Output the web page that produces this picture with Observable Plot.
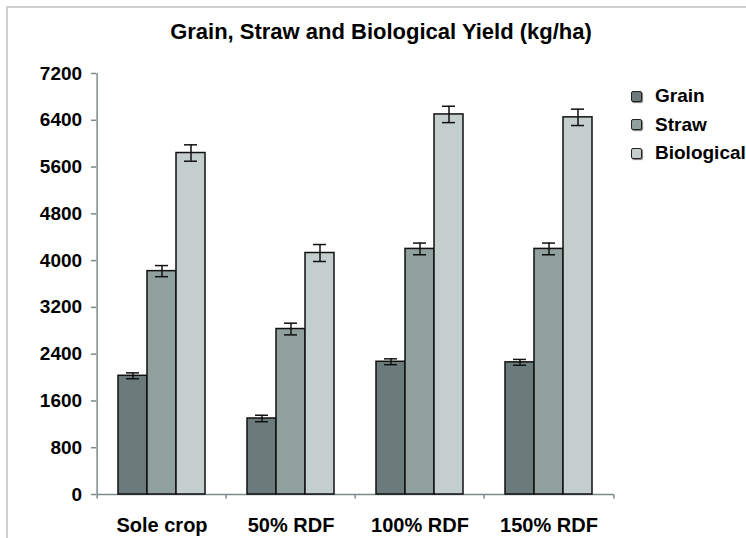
<!DOCTYPE html>
<html><head><meta charset="utf-8">
<script src="https://cdn.jsdelivr.net/npm/d3@7"></script>
<script src="https://cdn.jsdelivr.net/npm/@observablehq/plot@0.6"></script>
<style>
body{margin:0;background:#fff;}
#wrap{position:relative;width:746px;height:538px;overflow:hidden;font-family:"Liberation Sans",Arial,sans-serif;color:#000;}
#border{position:absolute;left:6px;top:6px;right:-4px;bottom:-4px;border-left:2px solid #cfcfcf;border-top:2px solid #cfcfcf;}
#chart{position:absolute;left:0;top:0;}
#title{position:absolute;top:19px;left:381px;transform:translateX(-50%);white-space:nowrap;font-size:22px;line-height:25px;font-weight:bold;}
#legend{position:absolute;left:631px;top:82px;}
.li{display:flex;align-items:center;height:28.5px;line-height:28px;font-size:19px;font-weight:bold;}
.sw{width:9px;height:9px;border:1px solid #222;border-radius:2px;box-shadow:1px 1px 1px #777;margin-right:13px;}
</style>
</head><body>
<div id="wrap">
  <div id="border"></div>
  <div id="chart"></div>
  <div id="title">Grain, Straw and Biological Yield (kg/ha)</div>
  <div id="legend"></div>
</div>
<script>
const categories = ["Sole crop", "50% RDF", "100% RDF", "150% RDF"];
const series = ["Grain", "Straw", "Biological"];
const grain = [2030, 1300, 2270, 2260];
const straw = [3820, 2830, 4200, 4200];
const biological = [5840, 4130, 6500, 6450];
const grainErr = [50, 55, 50, 50];
const strawErr = [95, 100, 100, 100];
const biologicalErr = [140, 145, 140, 140];
const yTicks = [0, 800, 1600, 2400, 3200, 4000, 4800, 5600, 6400, 7200];
const colors = ["#6b7b7b", "#8fa09d", "#c4cecd"];

const values = [grain, straw, biological];
const errs = [grainErr, strawErr, biologicalErr];
const rows = [];
categories.forEach((c, i) => series.forEach((s, j) => rows.push({category: c, series: s, value: values[j][i], err: errs[j][i]})));

const W = 746, H = 538, ML = 95, MR = 132, MT = 73, MB = 44;
const PAD_OUTER = 0.69;
const facetW = (W - ML - MR) / categories.length;
const step = facetW / (series.length + 2 * PAD_OUTER);
const lineColor = "#7b8b8b";

const leftEdges = categories.map((c, i) => ({category: c, first: i === 0}));
const rightEdge = [{category: categories[categories.length - 1]}];
const firstCat = () => categories[0];

const chart = Plot.plot({
  width: W, height: H,
  marginLeft: ML, marginRight: MR, marginTop: MT, marginBottom: MB,
  style: {fontFamily: "'Liberation Sans', Arial, sans-serif", background: "transparent"},
  fx: {domain: categories, padding: 0, label: null},
  x: {domain: series, paddingInner: 0, paddingOuter: PAD_OUTER, axis: null},
  y: {domain: [0, 7200], axis: null, label: null},
  color: {domain: series, range: colors},
  marks: [
    Plot.ruleY([0], {stroke: lineColor, strokeWidth: 1.5}),
    Plot.barY(rows, {fx: "category", x: "series", y: "value", fill: "series", stroke: "#111", strokeWidth: 1.5}),
    Plot.ruleX(rows, {fx: "category", x: "series", y1: d => d.value - d.err, y2: d => d.value + d.err, stroke: "#111", strokeWidth: 1.5}),
    Plot.tickY(rows, {fx: "category", x: "series", y: d => d.value + d.err, insetLeft: 8, insetRight: 8, stroke: "#111", strokeWidth: 1.5}),
    Plot.tickY(rows, {fx: "category", x: "series", y: d => d.value - d.err, insetLeft: 8, insetRight: 8, stroke: "#111", strokeWidth: 1.5}),
    Plot.ruleX(leftEdges, {fx: "category", x: () => "Straw", dx: -facetW / 2, y1: -75, y2: d => d.first ? 7200 : 0, stroke: lineColor, strokeWidth: 1.5}),
    Plot.ruleX(rightEdge, {fx: "category", x: () => "Straw", dx: facetW / 2, y1: -75, y2: 0, stroke: lineColor, strokeWidth: 1.5}),
    // y-axis ticks (outside, to the left of the axis line)
    Plot.tickY(yTicks, {fx: firstCat, x: () => "Straw", y: d => d, dx: -facetW / 2 - 3, insetLeft: (step - 6) / 2, insetRight: (step - 6) / 2, stroke: lineColor, strokeWidth: 1.5}),
    // y-axis tick labels
    Plot.text(yTicks, {fx: firstCat, x: () => "Straw", y: d => d, text: d => String(d), dx: -facetW / 2 - 15, textAnchor: "end", fontSize: 19, fontWeight: "bold", fill: "#000"}),
    Plot.axisFx({anchor: "bottom", label: null, tickSize: 0, tickPadding: 23, fontSize: 20, fontWeight: "bold", fill: "#000"})
  ]
});
document.getElementById("chart").appendChild(chart);

const legend = document.getElementById("legend");
series.forEach((s, j) => {
  const li = document.createElement("div");
  li.className = "li";
  const sw = document.createElement("div");
  sw.className = "sw";
  sw.style.background = colors[j];
  li.appendChild(sw);
  li.appendChild(document.createTextNode(s));
  legend.appendChild(li);
});
</script>
</body></html>
